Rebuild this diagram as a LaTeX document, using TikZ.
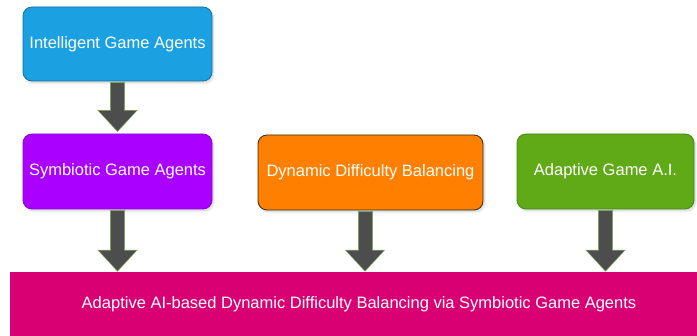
\documentclass[tikz,border=0pt]{standalone}
\usepackage{fontspec}
\setmainfont{Liberation Sans}
\usetikzlibrary{arrows.meta,calc,shadows.blur}
\definecolor{cblue}{HTML}{1BA1E2}
\definecolor{cbluedark}{HTML}{1070A8}
\definecolor{cpurple}{HTML}{AA00FF}
\definecolor{cpurpledark}{HTML}{8A00D0}
\definecolor{corange}{HTML}{FF8000}
\definecolor{corangedark}{HTML}{3A2A1A}
\definecolor{cgreen}{HTML}{60A917}
\definecolor{cgreendark}{HTML}{3F8A10}
\definecolor{cmagenta}{HTML}{D80073}
\definecolor{carrow}{HTML}{4D4D4D}
\definecolor{carrowedge}{HTML}{82A060}
\tikzset{
  box/.style={rounded corners=9pt, line width=0.8pt, text=white,
    font=\fontsize{16.5}{19}\selectfont, align=center, inner sep=0pt,
    blur shadow={shadow xshift=1.5pt, shadow yshift=-2pt, shadow blur steps=6, shadow opacity=18}},
  bigarrowedge/.style={draw=carrowedge, line width=15pt,
    -{Triangle[width=39pt,length=22pt]}},
  bigarrow/.style={draw=carrow, line width=13pt,
    -{Triangle[width=36pt,length=20pt]}},
}
\begin{document}
\begin{tikzpicture}[x=1pt,y=-1pt]
\useasboundingbox (0,0) rectangle (697,336);
\node[box, fill=cblue, draw=cbluedark, minimum width=189pt, minimum height=74pt] (ig) at (117.5,44) {Intelligent Game Agents};
\node[box, fill=cpurple, draw=cpurpledark, minimum width=189pt, minimum height=75pt] (sg) at (117.5,171.5) {Symbiotic Game Agents};
\node[box, fill=corange, draw=corangedark, minimum width=225pt, minimum height=75pt] (ddb) at (370.5,172.5) {Dynamic Difficulty Balancing};
\node[box, fill=cgreen, draw=cgreendark, minimum width=177pt, minimum height=75pt] (ag) at (605.5,171.5) {Adaptive Game A.I.};
\node[fill=cmagenta, text=white, minimum width=698pt, minimum height=64pt, inner sep=0pt,
  font=\fontsize{16.5}{19}\selectfont] (bar) at (359,304) {Adaptive AI-based Dynamic Difficulty Balancing via Symbiotic Game Agents};
% arrows
\coordinate (a1s) at ($(ig.south)+(0,0.5)$);
\coordinate (a1e) at ($(sg.north)+(0,-1.5)$);
\coordinate (a2s) at ($(sg.south)+(0,0.5)$);
\coordinate (a2e) at (a2s |- bar.north);
\coordinate (a3s) at ($(ddb.south)+(-5.5,0.5)$);
\coordinate (a3e) at (a3s |- bar.north);
\coordinate (a4s) at ($(ag.south)+(0,0.5)$);
\coordinate (a4e) at (a4s |- bar.north);
\foreach \s/\e in {a1s/a1e,a2s/a2e,a3s/a3e,a4s/a4e}{
  \draw[bigarrowedge] (\s) -- (\e);
  \draw[bigarrow] ($(\s)+(0,0.8)$) -- ($(\e)+(0,-1.2)$);
}
\end{tikzpicture}
\end{document}
